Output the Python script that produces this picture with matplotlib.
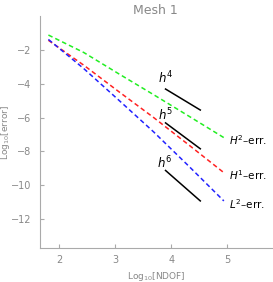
import matplotlib
matplotlib.use("Agg")
import matplotlib.pyplot as plt

# log10 of NDOF for each mesh level
log_ndof = [1.81, 2.44, 3.06, 3.69, 4.31, 4.94]

# log10 of the errors
h2_err = [-1.12, -2.15, -3.40, -4.65, -5.90, -7.18]
h1_err = [-1.43, -2.90, -4.45, -6.00, -7.60, -9.25]
l2_err = [-1.38, -3.10, -4.95, -6.85, -8.85, -10.92]

# reference slopes (x ends, y ends)
ref_x = [3.9, 4.52]
ref_h4 = [-4.31, -5.55]
ref_h5 = [-6.31, -7.84]
ref_h6 = [-9.12, -10.92]

gray = "#888888"
plt.rcParams["mathtext.fontset"] = "dejavusans"

fig = plt.figure(figsize=(2.73, 2.82), dpi=100)
ax = fig.add_axes([0.1465, 0.1206, 0.85, 0.8224])

ax.plot(log_ndof, h2_err, color="#22ee22", ls=(0, (3, 2)), lw=1.1)
ax.plot(log_ndof, h1_err, color="#ff2222", ls=(0, (3, 2)), lw=1.1)
ax.plot(log_ndof, l2_err, color="#2222ff", ls=(0, (3, 2)), lw=1.1)

for ys in (ref_h4, ref_h5, ref_h6):
    ax.plot(ref_x, ys, color="black", lw=1.1)

ax.text(3.9, -3.65, r"$h^4$", fontsize=8.5, ha="center", va="center")
ax.text(3.89, -5.86, r"$h^5$", fontsize=8.5, ha="center", va="center")
ax.text(3.89, -8.7, r"$h^6$", fontsize=8.5, ha="center", va="center")

ax.text(5.03, -7.31, r"$H^2$–err.", fontsize=7.5, ha="left", va="center")
ax.text(5.03, -9.37, r"$H^1$–err.", fontsize=7.5, ha="left", va="center")
ax.text(5.03, -11.12, r"$L^2$–err.", fontsize=7.5, ha="left", va="center")

ax.set_xlim(1.66, 5.8)
ax.set_ylim(-13.7, 0)
ax.set_xticks([2, 3, 4, 5])
ax.set_yticks([-2, -4, -6, -8, -10, -12])
ax.set_yticklabels(["−2", "−4", "−6", "−8", "−10", "−12"])

fig.text(0.57, 0.963, "Mesh 1", color=gray, fontsize=9, ha="center", va="center")
ax.set_xlabel(r"Log$_{10}$[NDOF]", color=gray, fontsize=6.5, labelpad=4)
ax.set_ylabel(r"Log$_{10}$[error]", color=gray, fontsize=6.5)
ax.yaxis.set_label_coords(-0.12, 0.5)

for side in ("top", "right"):
    ax.spines[side].set_visible(False)
for side in ("left", "bottom"):
    ax.spines[side].set_color("#aaaaaa")
ax.tick_params(direction="in", length=3, colors="#aaaaaa", labelcolor=gray, labelsize=7)
ax.tick_params(axis="y", pad=6)
ax.tick_params(axis="x", pad=5)

fig.savefig("out.png", dpi=100)
